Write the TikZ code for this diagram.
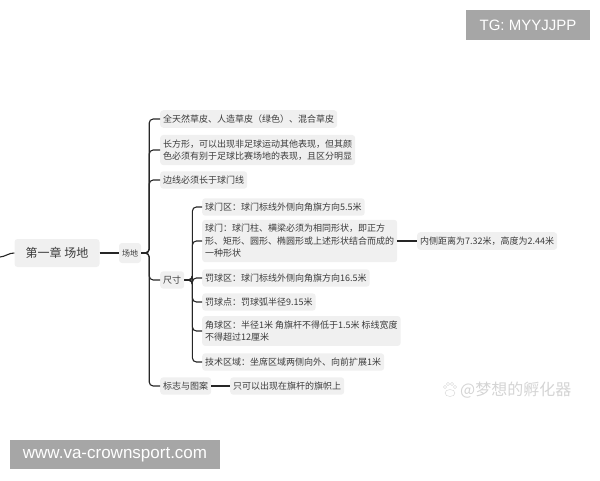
\documentclass[tikz,border=0pt]{standalone}
\usepackage{fontspec}
\setmainfont{Noto Sans CJK SC}
\newfontfamily\latinsans{Liberation Sans}
\definecolor{boxgray}{HTML}{F0F0F0}
\definecolor{inkgray}{HTML}{3C3C3C}
\definecolor{taggray}{HTML}{A6A6A6}
\begin{document}
\begin{tikzpicture}
[x=1pt, y=-1pt,
 topic/.style={fill=boxgray, rounded corners=3pt, text=inkgray, font=\fontsize{9}{12.5}\selectfont, align=left, inner xsep=3pt, inner ysep=4.5pt, anchor=west},
 link/.style={draw=black!85, line width=1.1pt, rounded corners=4pt},
 tag/.style={fill=taggray, text=white, inner sep=0pt}]
\useasboundingbox (0,0) rectangle (600,480);
\node[topic, anchor=center, minimum width=85, minimum height=28, font=\fontsize{12}{14}\selectfont] (chapter) at (57,253) {第一章 场地};
\node[topic, anchor=center, minimum height=20, font=\fontsize{8}{10}\selectfont] (field) at (130,253) {场地};
\node[topic] (turf) at (160,119) {全天然草皮、人造草皮（绿色）、混合草皮};
\node[topic] (shape) at (160,150) {长方形，可以出现非足球运动其他表现，但其颜\\色必须有别于足球比赛场地的表现，且区分明显};
\node[topic] (sideline) at (160,180) {边线必须长于球门线};
\node[topic] (size) at (160,280) {尺寸};
\node[topic] (logo) at (160,386) {标志与图案};
\node[topic] (flag) at (230,386) {只可以出现在旗杆的旗帜上};
\node[topic] (goalarea) at (202,207) {球门区：球门标线外侧向角旗方向5.5米};
\node[topic] (goal) at (202,241) {球门：球门柱、横梁必须为相同形状，即正方\\形、矩形、圆形、椭圆形或上述形状结合而成的\\一种形状};
\node[topic] (penarea) at (202,278) {罚球区：球门标线外侧向角旗方向16.5米};
\node[topic] (penspot) at (202,302) {罚球点：罚球弧半径9.15米};
\node[topic] (corner) at (202,331) {角球区：半径1米 角旗杆不得低于1.5米 标线宽度\\不得超过12厘米};
\node[topic] (techarea) at (202,362) {技术区域：坐席区域两侧向外、向前扩展1米};
\node[topic] (posts) at (417,241) {内侧距离为7.32米，高度为2.44米};
\coordinate (edge) at (0,257);
\draw[link] (edge) to[out=5, in=180] (chapter.west);
\draw[link] (chapter) -- (field);
\foreach \k in {turf,shape,sideline,size,logo}
  \draw[link] (field.east) -- ++(8,0) |- (\k.west);
\foreach \k in {goalarea,goal,penarea,penspot,corner,techarea}
  \draw[link] (size.east) -- ++(8,0) |- (\k.west);
\draw[link] (logo) -- (flag);
\draw[link] (goal) -- (posts);
\node[tag, minimum width=124, minimum height=30, font=\latinsans\fontsize{15}{18}\selectfont] (tg) at (528,25) {TG: MYYJJPP};
\node[tag, minimum width=210, minimum height=29, font=\latinsans\fontsize{17}{20}\selectfont] (site) at (115,454.5) {www.va-crownsport.com};
\node[text=black!17, anchor=west, inner sep=0pt, font=\fontsize{16}{18}\selectfont] (mark) at (460,390) {@梦想的孵化器};
\coordinate (paw) at (450,390);
\foreach \a/\b in {-5/-3,-2/-6,2/-6,5/-3}
  \draw[black!17] ([shift={(\a,\b)}]paw) circle (1.6);
\draw[black!17] ([shift={(0,3)}]paw) ellipse (5 and 3.5);
\end{tikzpicture}
\end{document}
